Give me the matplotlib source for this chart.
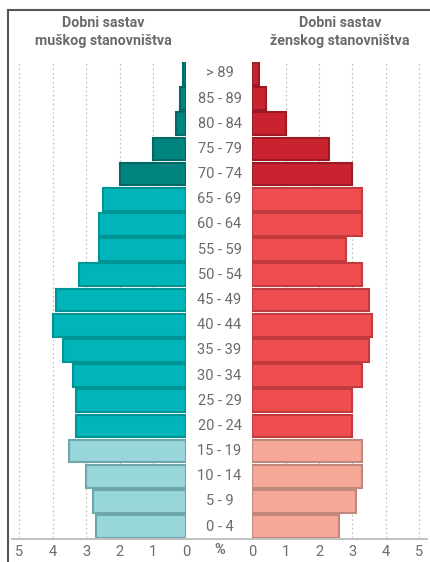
import matplotlib.pyplot as plt
from matplotlib.lines import Line2D

W, H = 431, 562

age_groups = ["0 - 4", "5 - 9", "10 - 14", "15 - 19", "20 - 24", "25 - 29",
              "30 - 34", "35 - 39", "40 - 44", "45 - 49", "50 - 54", "55 - 59",
              "60 - 64", "65 - 69", "70 - 74", "75 - 79", "80 - 84", "85 - 89",
              "> 89"]
male = [2.7, 2.8, 3.0, 3.5, 3.3, 3.3, 3.4, 3.7, 4.0, 3.9, 3.2, 2.6,
        2.6, 2.5, 2.0, 1.0, 0.3, 0.2, 0.1]
female = [2.6, 3.1, 3.3, 3.3, 3.0, 3.0, 3.3, 3.5, 3.6, 3.5, 3.3, 2.8,
          3.3, 3.3, 3.0, 2.3, 1.0, 0.4, 0.2]
ticks = [0, 1, 2, 3, 4, 5]

# 0-19 young, 20-69 working, 70+ old
male_fill = ["#97d6db", "#00b5b9", "#00847f"]
male_edge = ["#6fa6a9", "#009497", "#006964"]
female_fill = ["#f6a896", "#ef4e50", "#c9232f"]
female_edge = ["#c0877c", "#c23a3e", "#9c1a24"]

FONT = ["Roboto", "DejaVu Sans"]
GRAY = "#6b6b6b"


def group(i):
    if i < 4:
        return 0
    if i < 14:
        return 1
    return 2


def px_axes(fig, x0, x1, y0, y1):
    return fig.add_axes([x0 / W, 1 - y1 / H, (x1 - x0) / W, (y1 - y0) / H])


fig = plt.figure(figsize=(W / 100, H / 100), dpi=100)

ax_m = px_axes(fig, 12.5, 186.5, 62, 538)
ax_f = px_axes(fig, 252.5, 427.5, 62, 538)

ypos = list(range(len(age_groups)))
for ax, vals, fills, edges in [(ax_m, male, male_fill, male_edge),
                               (ax_f, female, female_fill, female_edge)]:
    for t in ticks[1:]:
        ax.axvline(t, color="#c4c4c4", lw=0.9, ls=(0, (1.5, 2)), zorder=0)
    ax.barh(ypos, vals, height=0.9,
            color=[fills[group(i)] for i in ypos],
            edgecolor=[edges[group(i)] for i in ypos],
            linewidth=1.5, zorder=2)
    ax.set_ylim(-0.45, len(age_groups) - 0.55)
    ax.set_yticks([])
    ax.set_xticks(ticks)
    ax.set_xticklabels([str(t) for t in ticks], fontsize=10.5,
                       color=GRAY, family=FONT)
    ax.tick_params(axis="x", length=0, pad=5)
    for s in ax.spines.values():
        s.set_visible(False)
    ax.patch.set_alpha(0)

ax_m.set_xlim(5.2, 0)
ax_f.set_xlim(0, 5.25)

# age labels in the middle
for i, lab in enumerate(age_groups):
    y = ax_m.transData.transform((0, i))[1]
    fig.text(219.5 / W, y / H, lab, ha="center", va="center",
             fontsize=10.5, color=GRAY, family=FONT)

fig.text(219.5 / W, 1 - 550 / H, "%", ha="center", va="center",
         fontsize=10.5, color=GRAY, family=FONT, fontweight="bold")

# titles
fig.text(103 / W, 1 - 32 / H, "Dobni sastav\nmuškog stanovništva",
         ha="center", va="center", fontsize=10.3, color=GRAY,
         family=FONT, fontweight="bold", linespacing=1.3)
fig.text(340 / W, 1 - 32 / H, "Dobni sastav\nženskog stanovništva",
         ha="center", va="center", fontsize=10.3, color=GRAY,
         family=FONT, fontweight="bold", linespacing=1.3)

# bottom axis line and frame corner
fig.add_artist(Line2D([12 / W, 427 / W], [1 - 538.5 / H, 1 - 538.5 / H],
                      color="#b5b5b5", lw=1.2))
fig.add_artist(Line2D([8 / W, 1], [1 - 10 / H, 1 - 10 / H],
                      color="#555555", lw=1.5))
fig.add_artist(Line2D([8 / W, 8 / W], [1 - 10 / H, 0],
                      color="#555555", lw=1.5))

fig.savefig("out.png", dpi=100)
